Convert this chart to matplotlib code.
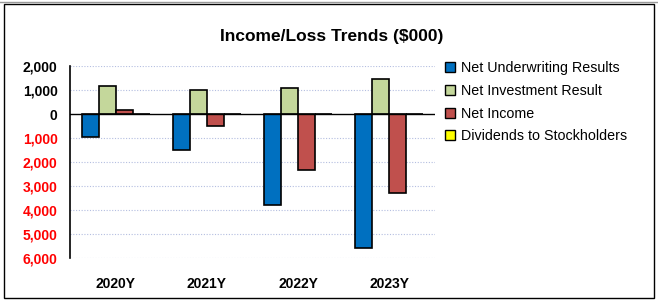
import matplotlib.pyplot as plt
import numpy as np
from matplotlib.patches import Rectangle
from matplotlib.lines import Line2D

# Data ($000)
years = ["2020Y", "2021Y", "2022Y", "2023Y"]
net_underwriting = [-940, -1500, -3790, -5580]
net_investment = [1170, 1000, 1100, 1440]
net_income = [150, -490, -2330, -3290]
dividends = [0, 0, 0, 0]

series_names = ["Net Underwriting Results", "Net Investment Result",
                "Net Income", "Dividends to Stockholders"]
series_colors = ["#0070C0", "#C4D79B", "#C0504D", "#FFFF00"]
y_ticks = [2000, 1000, 0, -1000, -2000, -3000, -4000, -5000, -6000]

plt.rcParams["font.family"] = ["Liberation Sans", "DejaVu Sans"]

fig = plt.figure(figsize=(6.58, 3.02), dpi=100)
ax = fig.add_axes([70 / 658, 1 - 258 / 302, 365 / 658, 192 / 302])

x = np.arange(len(years))
width = 0.186
all_series = [net_underwriting, net_investment, net_income, dividends]
for i, (vals, name, col) in enumerate(zip(all_series, series_names, series_colors)):
    offset = (i - 1.5) * width
    ax.bar(x + offset, vals, width, color=col, edgecolor="black",
           linewidth=1.2, label=name, zorder=3)

ax.set_xlim(-0.5, len(years) - 0.5)
ax.set_ylim(-6000, 2000)
ax.set_yticks(y_ticks)
ax.set_yticklabels([f"{abs(v):,}" for v in y_ticks])
for lbl, v in zip(ax.get_yticklabels(), y_ticks):
    lbl.set_color("#FF0000" if v < 0 else "black")
    lbl.set_fontweight("bold")
    lbl.set_fontsize(10)

ax.set_xticks(x)
ax.set_xticklabels(years, fontweight="bold", fontsize=10)
ax.tick_params(axis="x", length=0, pad=14)
ax.tick_params(axis="y", length=0, pad=9)

for v in y_ticks:
    if v != 0:
        ax.axhline(v, color="#B4BEE0", linestyle=(0, (1, 1.5)), linewidth=0.8, zorder=1)
ax.axhline(0, color="black", linewidth=1.0, zorder=4)

for side in ["top", "right", "bottom"]:
    ax.spines[side].set_visible(False)
ax.spines["left"].set_linewidth(1.2)

fig.text(332 / 658, 1 - 37 / 302, "Income/Loss Trends ($000)", ha="center",
         va="center", fontsize=12.5, fontweight="bold")

handles = [Rectangle((0, 0), 1, 1, facecolor=c, edgecolor="black", linewidth=1.0)
           for c in series_colors]
fig.legend(handles, series_names, loc="upper left",
           bbox_to_anchor=(432 / 658, 1 - 48 / 302), frameon=False,
           fontsize=10.3, handlelength=0.7, handleheight=0.7, handletextpad=0.4,
           labelspacing=0.62)

# chart border
fig.add_artist(Rectangle((4 / 658, 4 / 302), 650 / 658, 294 / 302,
                         transform=fig.transFigure, fill=False,
                         edgecolor="black", linewidth=1.0))
fig.add_artist(Line2D([0, 1], [1 - 1.5 / 302, 1 - 1.5 / 302],
                      transform=fig.transFigure, color="#999999", linewidth=1.0))

fig.savefig("out.png", dpi=100)
